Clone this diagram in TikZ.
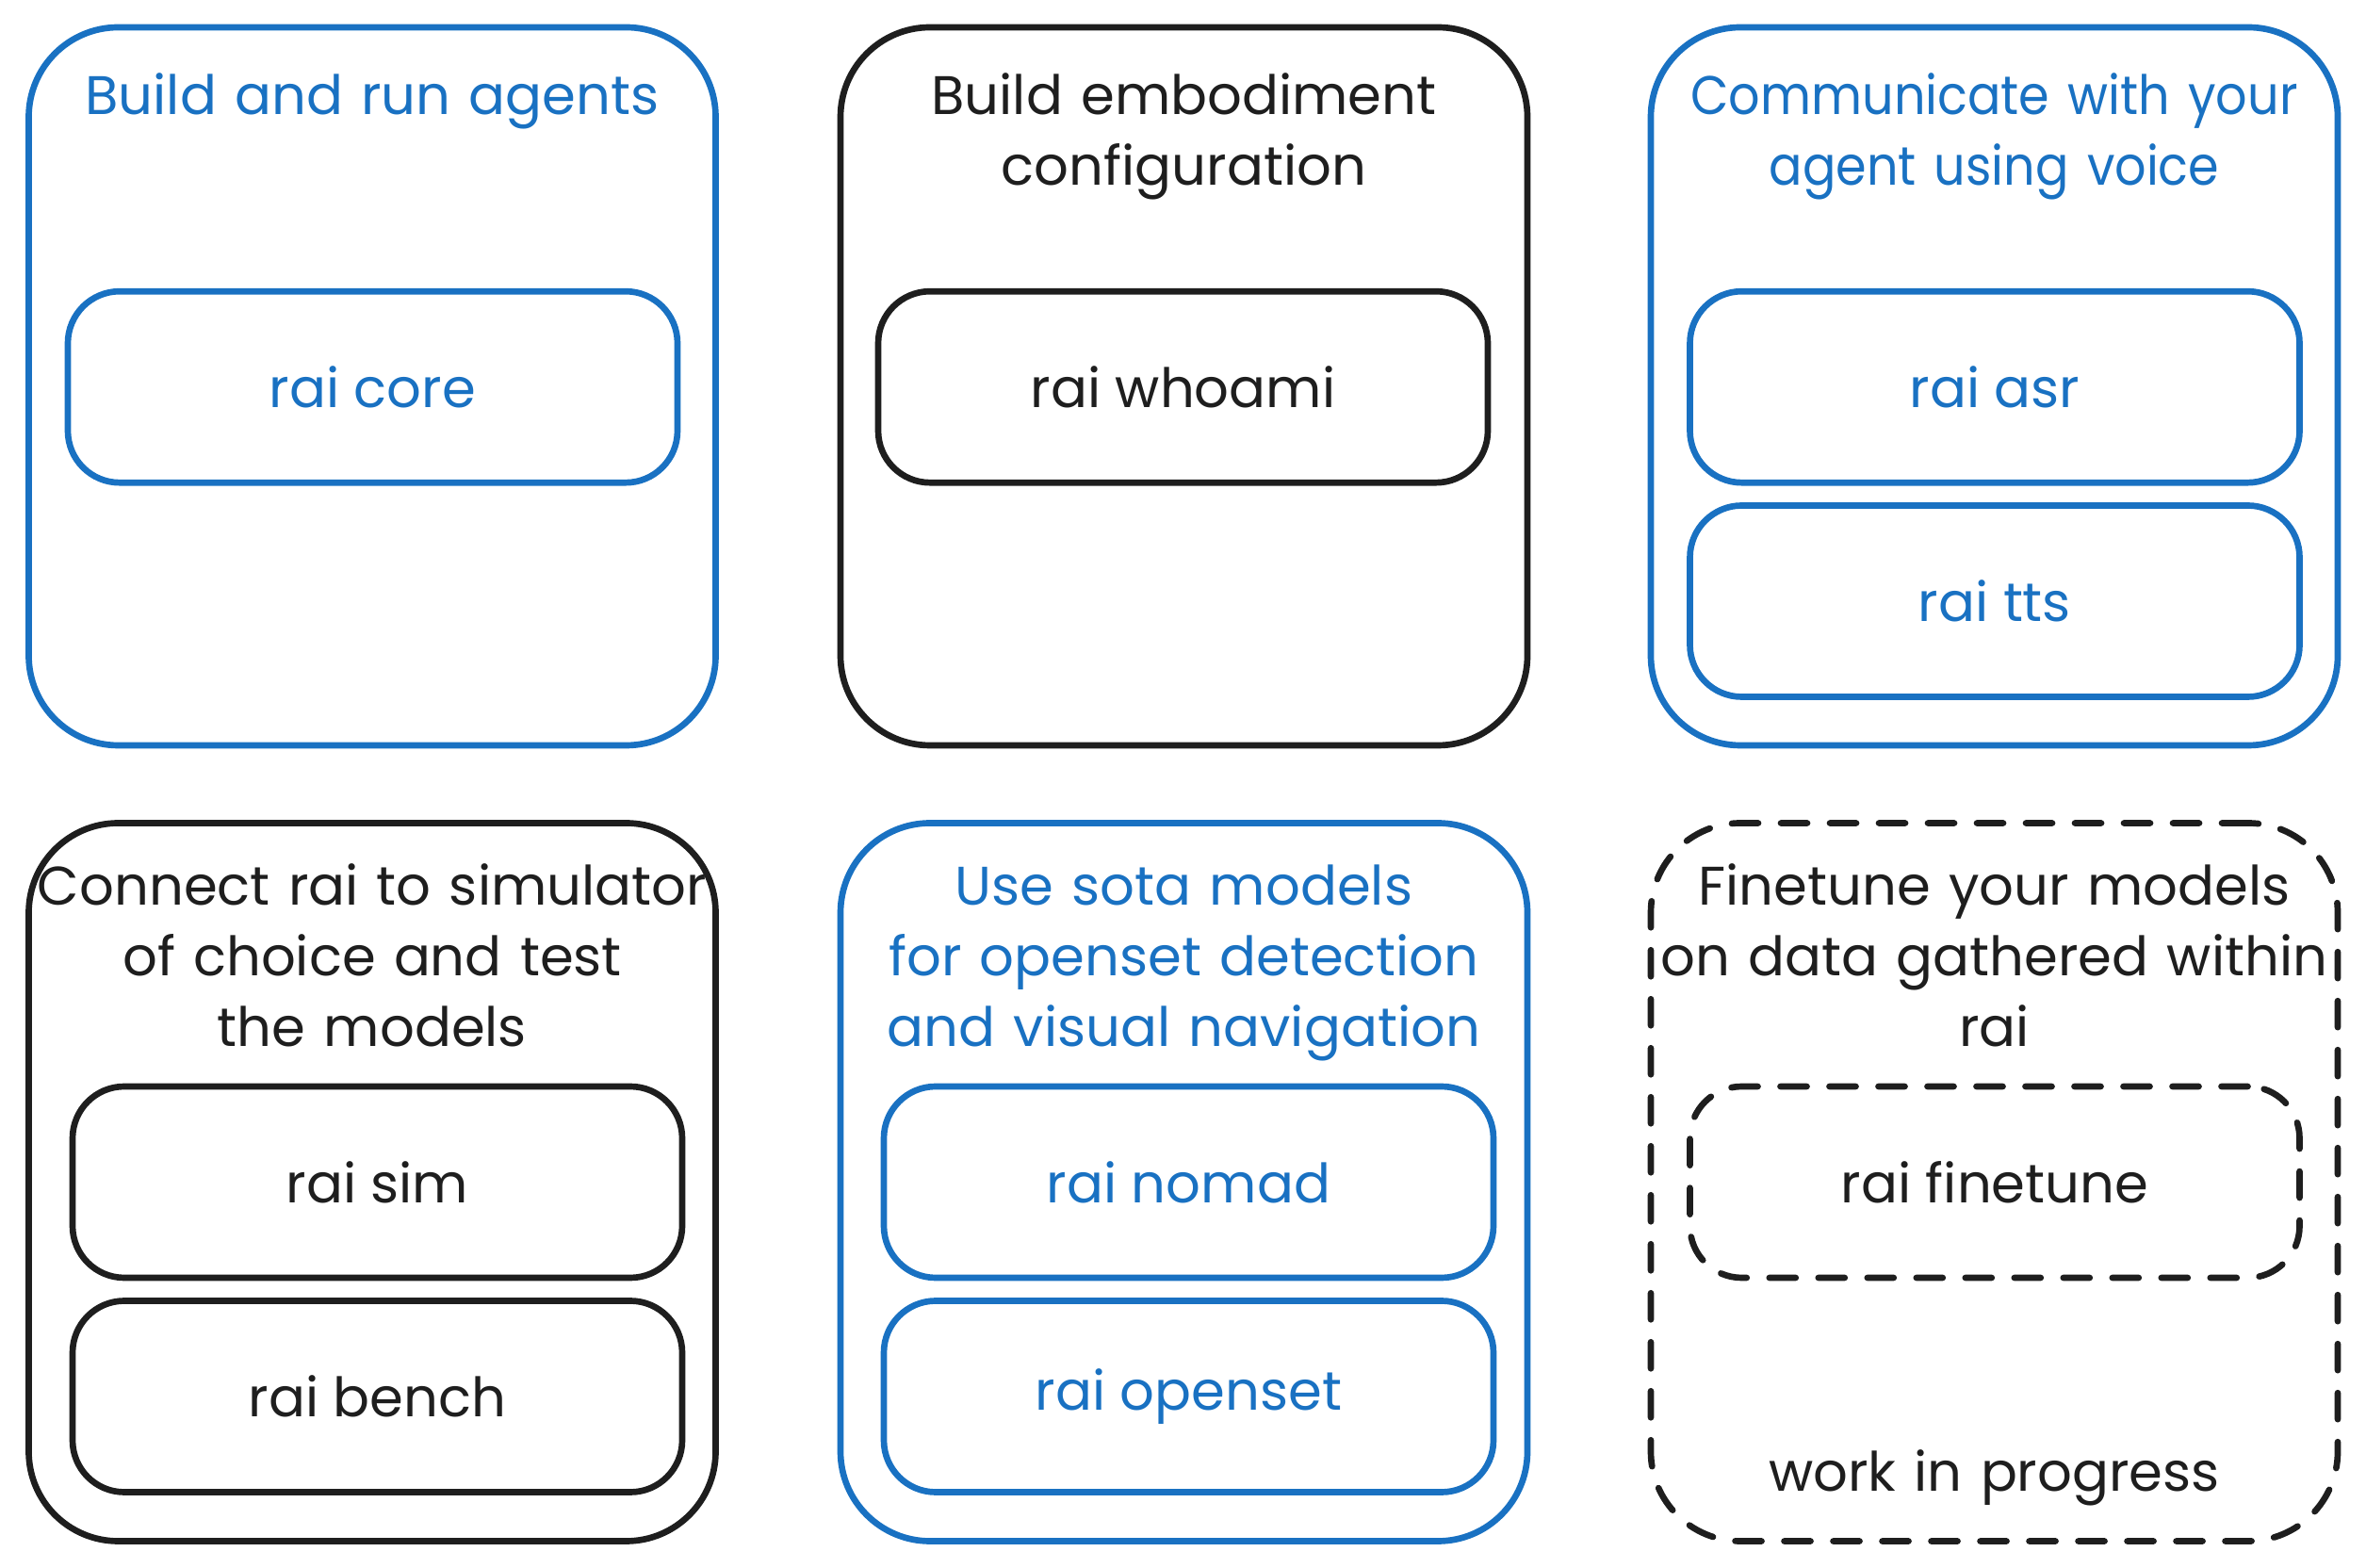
\documentclass[tikz,border=0pt]{standalone}
\usepackage{fontspec}
\setmainfont{Poppins}
\definecolor{exblue}{HTML}{1971C2}
\definecolor{exblack}{HTML}{1E1E1E}
\begin{document}
\begin{tikzpicture}[
  x=1cm,y=1cm,
  cblue/.style={draw=exblue, text=exblue},
  cblack/.style={draw=exblack, text=exblack},
  outerbox/.style={line width=1.9pt, rounded corners=0.95cm, minimum width=7.29cm, minimum height=7.62cm, inner sep=0pt},
  innerbox/.style={line width=1.9pt, rounded corners=0.55cm, minimum width=6.47cm, minimum height=2.03cm, inner sep=0pt, font=\fontsize{16.4}{21.3}\selectfont},
  titletext/.style={font=\fontsize{16.4}{21.3}\selectfont, text width=8cm, align=center, inner sep=0pt, anchor=base},
  wipline/.style={dash pattern=on 0.28cm off 0.24cm, line cap=round}
]
\useasboundingbox (0,0) rectangle (25.11,-16.64);

% outer boxes
\node[outerbox, cblue]  (b1) at (3.95,-4.10) {};
\node[outerbox, cblack] (b2) at (12.565,-4.10) {};
\node[outerbox, cblue]  (b3) at (21.165,-4.10) {};
\node[outerbox, cblack] (b4) at (3.95,-12.545) {};
\node[outerbox, cblue]  (b5) at (12.565,-12.545) {};
\node[outerbox, cblack, wipline] (b6) at (21.165,-12.545) {};

% titles
\node[titletext, text=exblue]  (t1) at (3.95,-1.22) {Build and run agents};
\node[titletext, text=exblack] (t2) at (12.565,-1.22) {Build embodiment\\configuration};
\node[titletext, text=exblue, font=\fontsize{16.4}{21.3}\selectfont\addfontfeature{FakeStretch=0.91}]  (t3) at (21.165,-1.22) {Communicate with your\\agent using voice};
\node[titletext, text=exblack] (t4) at (3.95,-9.61) {Connect rai to simulator\\of choice and test\\the models};
\node[titletext, text=exblue]  (t5) at (12.565,-9.61) {Use sota models\\for openset detection\\and visual navigation};
\node[titletext, text=exblack] (t6) at (21.165,-9.61) {Finetune your models\\on data gathered within\\rai};
\node[titletext, text=exblack] (t7) at (21.165,-15.82) {work in progress};

% inner boxes
\node[innerbox, cblue]  (core)   at (3.955,-4.107) {rai core};
\node[innerbox, cblack] (whoami) at (12.555,-4.107) {rai whoami};
\node[innerbox, cblue]  (asr)    at (21.17,-4.107) {rai asr};
\node[innerbox, cblue]  (tts)    at (21.17,-6.38) {rai tts};
\node[innerbox, cblack] (sim)    at (4.005,-12.545) {rai sim};
\node[innerbox, cblack] (bench)  at (4.005,-14.82) {rai bench};
\node[innerbox, cblue]  (nomad)  at (12.615,-12.545) {rai nomad};
\node[innerbox, cblue]  (openset) at (12.615,-14.82) {rai openset};
\node[innerbox, cblack, wipline] (finetune) at (21.17,-12.545) {rai finetune};
\end{tikzpicture}
\end{document}
